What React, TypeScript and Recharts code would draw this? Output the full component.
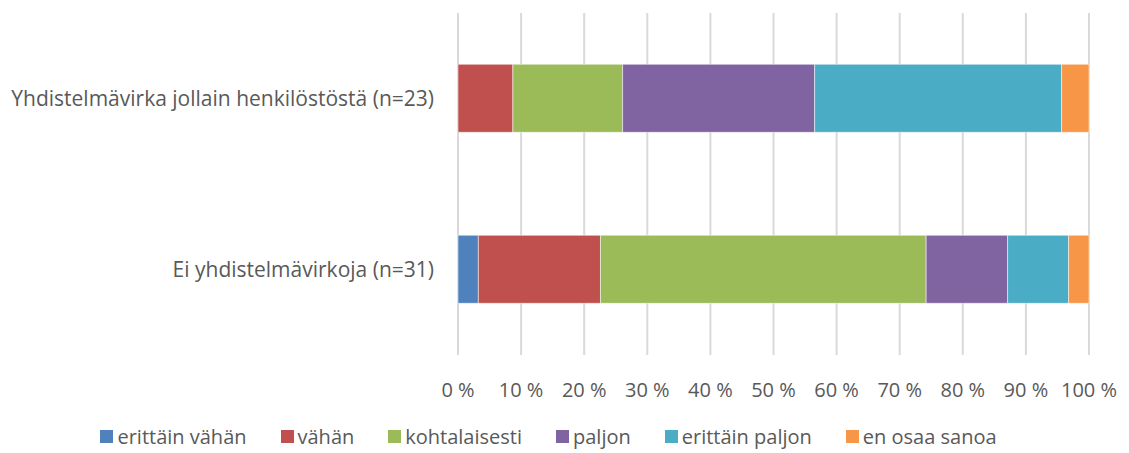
import React from 'react';
import { BarChart, Bar, XAxis, YAxis, CartesianGrid, Legend } from 'recharts';

const categories = [
  'Yhdistelmävirka jollain henkilöstöstä (n=23)',
  'Ei yhdistelmävirkoja (n=31)',
];

const seriesNames = [
  'erittäin vähän',
  'vähän',
  'kohtalaisesti',
  'paljon',
  'erittäin paljon',
  'en osaa sanoa',
];

// answer counts per category, in the order of seriesNames
const countsJollain = [0, 2, 4, 7, 9, 1];
const countsEi = [1, 6, 16, 4, 3, 1];

const colors = ['#4f81bd', '#c0504d', '#9bbb59', '#8064a2', '#4bacc6', '#f79646'];

const xTicks = [0, 0.1, 0.2, 0.3, 0.4, 0.5, 0.6, 0.7, 0.8, 0.9, 1];

const data = [countsJollain, countsEi].map((counts, i) => {
  const row: Record<string, string | number> = { name: categories[i] };
  seriesNames.forEach((s, j) => {
    row[s] = counts[j];
  });
  return row;
});

const font = '"Open Sans", sans-serif';
const textColor = '#595959';

const LegendContent = () => (
  <div
    style={{
      display: 'flex',
      justifyContent: 'center',
      gap: 34,
      fontFamily: font,
      fontSize: 20,
      color: textColor,
      paddingLeft: 8,
      paddingTop: 6,
    }}
  >
    {seriesNames.map((s, i) => (
      <div key={s} style={{ display: 'flex', alignItems: 'center' }}>
        <span
          style={{
            display: 'inline-block',
            width: 13,
            height: 13,
            background: colors[i],
            marginRight: 4,
          }}
        />
        {s}
      </div>
    ))}
  </div>
);

export default function App() {
  return (
    <div style={{ position: 'absolute', left: 0, top: 0, width: 1129, height: 453, background: '#fff' }}>
      <BarChart
        width={1129}
        height={453}
        layout="vertical"
        data={data}
        stackOffset="expand"
        barCategoryGap="30%"
        margin={{ top: 13, right: 40, left: 0, bottom: 0 }}
      >
        <CartesianGrid horizontal={false} stroke="#d9d9d9" strokeWidth={2} />
        <XAxis
          type="number"
          domain={[0, 1]}
          ticks={xTicks}
          tickFormatter={(v: number) => `${Math.round(v * 100)} %`}
          axisLine={false}
          tickLine={false}
          tickSize={0}
          tickMargin={28}
          height={62}
          interval={0}
          tick={{ fill: textColor, fontSize: 20, fontFamily: font }}
        />
        <YAxis
          type="category"
          dataKey="name"
          width={458}
          axisLine={false}
          tickLine={false}
          tickSize={0}
          tickMargin={24}
          tick={{ fill: textColor, fontSize: 21, fontFamily: font }}
        />
        <Legend verticalAlign="bottom" height={36} content={<LegendContent />} />
        {seriesNames.map((s, i) => (
          <Bar
            key={s}
            dataKey={s}
            stackId="a"
            fill={colors[i]}
            stroke="#ffffff"
            strokeWidth={0.5}
            isAnimationActive={false}
          />
        ))}
      </BarChart>
    </div>
  );
}
